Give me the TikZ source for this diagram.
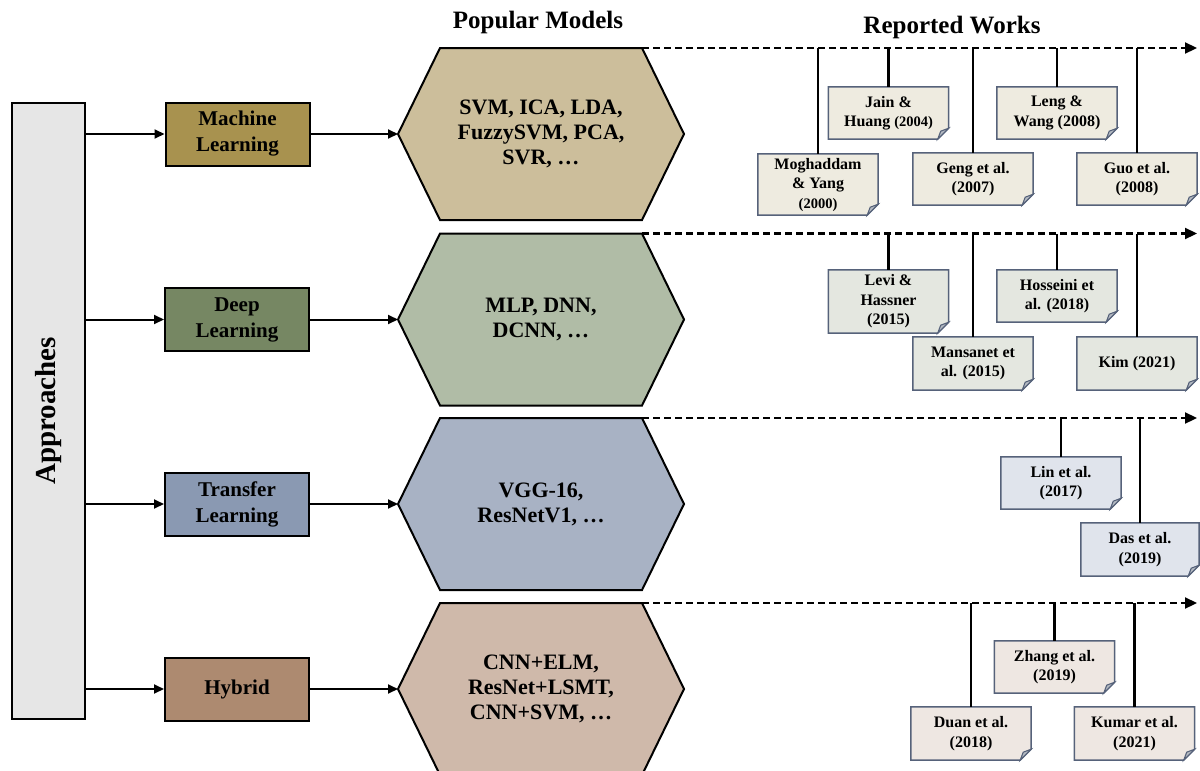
\documentclass[tikz,border=0pt]{standalone}
\usepackage{fontspec}
\setmainfont{Liberation Serif}
\usetikzlibrary{arrows.meta,backgrounds,calc}
\definecolor{apfill}{HTML}{E6E6E6}
\definecolor{mlbox}{HTML}{A8924F}
\definecolor{dlbox}{HTML}{768763}
\definecolor{tlbox}{HTML}{8A99B2}
\definecolor{hybox}{HTML}{AD8A70}
\definecolor{mlhex}{HTML}{CCBE9B}
\definecolor{dlhex}{HTML}{B0BCA6}
\definecolor{tlhex}{HTML}{A8B2C4}
\definecolor{hyhex}{HTML}{CFB9AA}
\definecolor{rowa}{HTML}{EEEBE0}
\definecolor{rowb}{HTML}{E4E7E0}
\definecolor{rowc}{HTML}{E0E4EC}
\definecolor{rowd}{HTML}{EEE7E2}
\definecolor{noteline}{HTML}{56627A}
\definecolor{foldfill}{HTML}{B4BAC2}
\begin{document}
\begin{tikzpicture}[x=1pt,y=-1pt,
  apbox/.style={draw=black, line width=2pt, minimum width=144pt, minimum height=63pt,
    inner sep=0pt, align=center, font=\fontsize{21}{26}\selectfont\bfseries},
  hextext/.style={align=center, font=\fontsize{22}{25}\selectfont\bfseries},
  hexshape/.style={draw=black, line width=2pt},
  notebox/.style={minimum width=120pt, minimum height=52pt, inner sep=0pt, align=center,
    font=\fontsize{16}{19.5}\selectfont\bfseries},
  noteshape/.style={draw=noteline, line width=1.5pt},
  conn/.style={line width=2.4pt},
  timeline/.style={line width=2.2pt, dash pattern=on 7pt off 4pt, -{Triangle[length=12pt,width=11pt]}},
  arr/.style={line width=2pt, -{Triangle[length=10pt,width=9pt]}},
  title/.style={font=\fontsize{25}{30}\selectfont\bfseries}
]
\path[use as bounding box] (0,0) rectangle (1200,771);

% Approaches column
\node[draw=black, line width=2pt, fill=apfill, minimum width=73pt, minimum height=616pt, inner sep=0pt] (ap) at (48.5,411) {};
\node[rotate=90, font=\fontsize{29}{34}\selectfont\bfseries] (aptext) at (48.5,411) {Approaches};

% Titles
\node[title] (tpm) at (538,22) {Popular Models};
\node[title] (trw) at (952,27) {Reported Works};

% Category boxes
\node[apbox, fill=mlbox] (ml) at (237.5,134) {Machine\\Learning};
\node[apbox, fill=dlbox] (dl) at (237,319.5) {Deep\\Learning};
\node[apbox, fill=tlbox] (tl) at (237,504) {Transfer\\Learning};
\node[apbox, fill=hybox] (hy) at (237,689) {Hybrid};

% Hexagons
\foreach \n/\y/\c in {hml/134/mlhex, hdl/319.5/dlhex, htl/504/tlhex, hhy/689/hyhex}{
  \coordinate (\n) at (541,\y);
  \coordinate (\n-w) at (398,\y);
  \coordinate (\n-ne) at (642,\y-86);
  \filldraw[hexshape, fill=\c] (398,\y) -- (440,\y-86) -- (642,\y-86) -- (684,\y) -- (642,\y+86) -- (440,\y+86) -- cycle;
}
\node[hextext] (hmlt) at (hml) {SVM, ICA, LDA,\\FuzzySVM, PCA,\\SVR, \dots};
\node[hextext] (hdlt) at (hdl) {MLP, DNN,\\DCNN, \dots};
\node[hextext] (htlt) at (htl) {VGG-16,\\ResNetV1, \dots};
\node[hextext] (hhyt) at (hhy) {CNN+ELM,\\ResNet+LSMT,\\CNN+SVM, \dots};

% Arrows
\foreach \b/\h in {ml/hml, dl/hdl, tl/htl, hy/hhy}{
  \draw[arr] (ap.east |- \b.west) -- (\b.west);
  \draw[arr] (\b.east) -- (\h-w);
}

% Timelines
\foreach \h in {hml, hdl, htl, hhy}{
  \coordinate (\h-end) at ($(\h-ne)+(555,0)$);
  \draw[timeline] (\h-ne) -- (\h-end);
}

% Notes
\node[notebox, minimum height=61pt] (n11) at (818,184.5) {Moghaddam\\\& Yang\\{\fontsize{14.5}{17}\selectfont(2000)}};
\node[notebox] (n12) at (888.5,113) {Jain \&\\Huang {\fontsize{14.5}{17}\selectfont(2004)}};
\node[notebox] (n13) at (973,179) {Geng et al.\\(2007)};
\node[notebox] (n14) at (1057,113) {Leng \&\\Wang (2008)};
\node[notebox] (n15) at (1137,179) {Guo et al.\\(2008)};

\node[notebox, minimum height=63pt] (n21) at (888.5,301.5) {Levi \&\\Hassner\\(2015)};
\node[notebox, minimum height=53pt] (n22) at (973,363.5) {Mansanet et\\al. (2015)};
\node[notebox] (n23) at (1057,296) {Hosseini et\\al. (2018)};
\node[notebox, minimum height=53pt] (n24) at (1137,363.5) {Kim (2021)};

\node[notebox] (n31) at (1061,483) {Lin et al.\\(2017)};
\node[notebox, minimum width=118pt, minimum height=53pt] (n32) at (1140,549.5) {Das et al.\\(2019)};

\node[notebox] (n41) at (1054.5,667) {Zhang et al.\\(2019)};
\node[notebox, minimum height=53pt] (n42) at (971,733.5) {Duan et al.\\(2018)};
\node[notebox, minimum height=53pt] (n43) at (1134.5,733.5) {Kumar et al.\\(2021)};

\begin{scope}[on background layer]
\foreach \n/\c in {n11/rowa,n12/rowa,n13/rowa,n14/rowa,n15/rowa,
                   n21/rowb,n22/rowb,n23/rowb,n24/rowb,
                   n31/rowc,n32/rowc,
                   n41/rowd,n42/rowd,n43/rowd}{
  \filldraw[noteshape, fill=\c] (\n.north west) -- (\n.north east) -- ([yshift=11pt]\n.south east)
     -- ([xshift=-11pt]\n.south east) -- (\n.south west) -- cycle;
  \filldraw[noteshape, line width=1.1pt, fill=foldfill] ([yshift=11pt]\n.south east) -- ([xshift=-11pt]\n.south east)
     -- ([xshift=-8pt,yshift=8pt]\n.south east) -- cycle;
}
\end{scope}

% Connectors
\foreach \n/\h in {n11/hml,n12/hml,n13/hml,n14/hml,n15/hml,
                   n21/hdl,n22/hdl,n23/hdl,n24/hdl,
                   n31/htl,n32/htl,
                   n41/hhy,n42/hhy,n43/hhy}{
  \draw[conn] (\n.north) -- (\n.north |- \h-ne);
}
\end{tikzpicture}
\end{document}
